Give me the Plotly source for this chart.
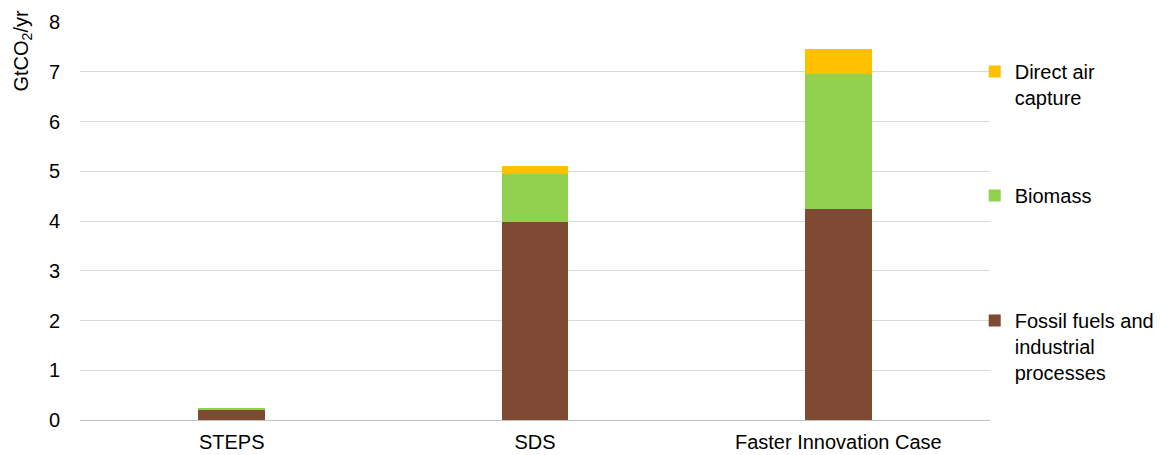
import plotly.graph_objects as go

categories = ["STEPS", "SDS", "Faster Innovation Case"]
fossil = [0.22, 3.97, 4.24]
biomass = [0.02, 0.97, 2.71]
dac = [0.0, 0.17, 0.51]

series_names = ["Fossil fuels and<br>industrial<br>processes", "Biomass", "Direct air<br>capture"]
colors = ["#7F4A33", "#92D050", "#FFC000"]
legends = ["legend3", "legend2", "legend"]

fig = go.Figure()
for name, vals, col, lg in zip(series_names, [fossil, biomass, dac], colors, legends):
    fig.add_trace(go.Bar(x=categories, y=vals, name=name, marker_color=col,
                         marker_line_width=0, legend=lg))

font = dict(family="Liberation Sans, Arial, sans-serif", size=20, color="#000000")
leg_common = dict(font=font, bgcolor="rgba(0,0,0,0)", xanchor="left", yanchor="top",
                  valign="top", itemwidth=30, x=0.9832, borderwidth=0)

fig.update_layout(
    barmode="stack",
    bargap=0.78,
    width=1154, height=447,
    margin=dict(l=72, r=172, t=14, b=35, autoexpand=False),
    plot_bgcolor="white", paper_bgcolor="white",
    font=font,
    showlegend=True,
    legend=dict(**leg_common, y=0.9246),
    legend2=dict(**leg_common, y=0.613),
    legend3=dict(**leg_common, y=0.299),
    xaxis=dict(showline=True, linecolor="#BFBFBF", linewidth=1, ticks="",
               tickfont=font, ticklabelstandoff=4),
    yaxis=dict(range=[0, 8], dtick=1, showgrid=True, gridcolor="#D9D9D9",
               gridwidth=1, zeroline=False, tickfont=font, ticks="",
               ticklabelstandoff=19),
    annotations=[dict(text="GtCO<sub>2</sub>/yr", textangle=-90, showarrow=False,
                      xref="paper", yref="paper", x=-0.0637, y=1.0327,
                      xanchor="center", yanchor="top", font=font)],
)

fig.write_html("out.html")
